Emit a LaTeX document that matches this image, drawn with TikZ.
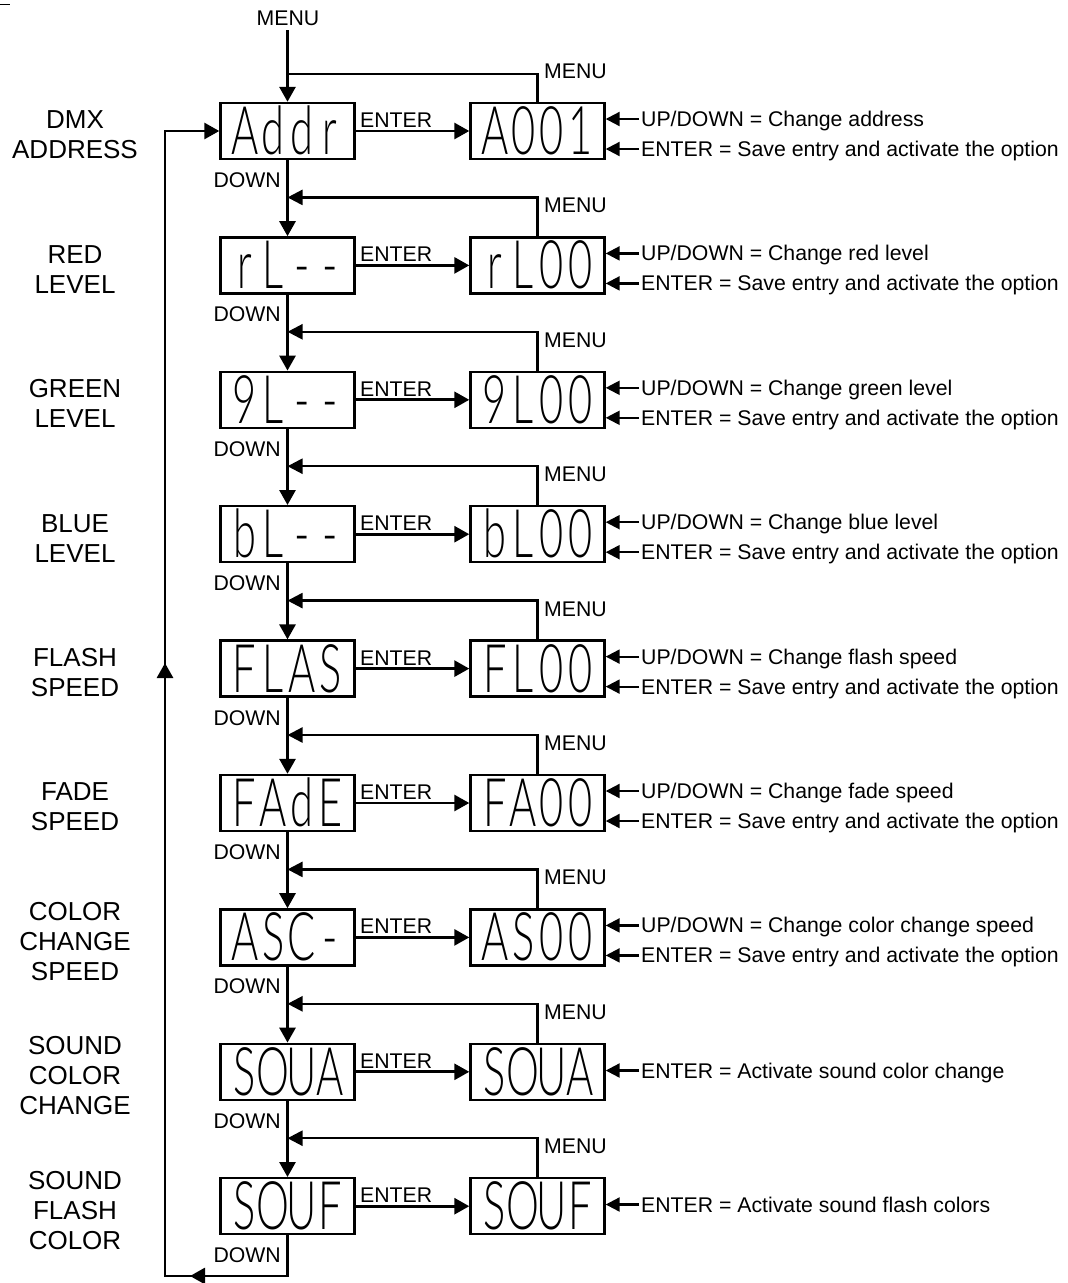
\documentclass[tikz,border=0pt]{standalone}
\usepackage{fontspec}
\usepackage{graphicx}
\setmainfont{Liberation Sans}
\IfFontExistsTF{Lato Light}{\newfontfamily\segfont{Lato Light}}{\newfontfamily\segfont{DejaVu Sans Condensed}}
\usetikzlibrary{arrows.meta}
\newcommand\segc[1]{\makebox[46pt][c]{#1}}
\newcommand\segdisp[4]{\scalebox{0.62}[1]{\segfont\fontsize{67}{67}\selectfont\segc{#1}\segc{#2}\segc{#3}\segc{#4}}}
\tikzset{
  disp/.style={draw, line width=2.4pt, rectangle, minimum width=134pt, minimum height=56pt, inner sep=0pt, text height=47pt, text depth=0pt},
  conn/.style={line width=2.8pt},
  arr/.style={conn, -{Triangle[length=15pt,width=16pt]}},
  fb/.style={line width=2.4pt},
  fbarr/.style={fb, -{Triangle[length=15pt,width=15pt]}},
  sarr/.style={line width=2.2pt, -{Triangle[length=14pt,width=14pt]}},
  lab/.style={font=\fontsize{21.25}{25}\selectfont, inner sep=0pt, text height=15pt, text depth=0pt},
  side/.style={font=\fontsize{26}{30}\selectfont, align=center, inner sep=0pt},
}
\begin{document}
\begin{tikzpicture}[x=1pt,y=-1pt]
\useasboundingbox (0,0) rectangle (1068,1283);
\draw[line width=0.8pt] (0,4) -- (10,4);
% rows
\foreach \i/\la/\ra/\side in {
  0/Addr/A001/{DMX\\ADDRESS},
  1/rL--/rL00/{RED\\LEVEL},
  2/9L--/9L00/{GREEN\\LEVEL},
  3/bL--/bL00/{BLUE\\LEVEL},
  4/FLAS/FL00/{FLASH\\SPEED},
  5/FAdE/FA00/{FADE\\SPEED},
  6/ASC-/AS00/{COLOR\\CHANGE\\SPEED},
  7/SOUA/SOUA/{SOUND\\COLOR\\CHANGE},
  8/SOUF/SOUF/{SOUND\\FLASH\\COLOR}}{
  \pgfmathsetmacro\yc{131+134.4*\i}
  \node[disp] (L\i) at (287.5,\yc) {\expandafter\segdisp\la};
  \node[disp] (R\i) at (537.5,\yc) {\expandafter\segdisp\ra};
  \node[side] (S\i) at (75,\yc+4) {\side};
  \draw[arr] (L\i) -- (R\i);
  \node[lab,anchor=west] (E\i) at (360,\yc-11) {ENTER};
  \node[lab,anchor=east] (D\i) at (281,\yc+49) {DOWN};
}
% top entry
\node[lab] (MT) at (288,17.5) {MENU};
\coordinate (T0) at (287.5,30);
\draw[arr] (T0) -- (L0.north);
\coordinate (F0) at (287.5,74);
\draw[fb] (R0.north) |- (F0);
\node[lab,anchor=west] (M0) at (544,71) {MENU};
% down connectors and menu returns
\foreach \i in {0,...,7}{
  \pgfmathtruncatemacro\j{\i+1}
  \pgfmathsetmacro\yf{63+134.4*\j}
  \draw[arr] (L\i) -- (L\j);
  \coordinate (F\j) at (287.5,\yf);
  \draw[fbarr] (R\j.north) |- (F\j);
  \node[lab,anchor=west] (M\j) at (544,\yf+8) {MENU};
}
% annotations
\foreach \i/\ud in {0/address,1/red level,2/green level,3/blue level,4/flash speed,5/fade speed,6/color change speed}{
  \pgfmathsetmacro\yc{131+134.4*\i}
  \node[lab,anchor=west] (U\i) at (641,\yc-12) {UP/DOWN = Change \ud};
  \node[lab,anchor=west] (V\i) at (641,\yc+18) {ENTER = Save entry and activate the option};
  \draw[sarr] ([xshift=-2pt]U\i.west) -- (R\i.east |- U\i.west);
  \draw[sarr] ([xshift=-2pt]V\i.west) -- (R\i.east |- V\i.west);
}
\node[lab,anchor=west] (V7) at (641,1070.5) {ENTER = Activate sound color change};
\draw[sarr] ([xshift=-2pt]V7.west) -- (R7.east |- V7.west);
\node[lab,anchor=west] (V8) at (641,1204.5) {ENTER = Activate sound flash colors};
\draw[sarr] ([xshift=-2pt]V8.west) -- (R8.east |- V8.west);
% loop back
\coordinate (B1) at (287.5,1276);
\coordinate (B2) at (190,1276);
\coordinate (B3) at (165,1276);
\coordinate (B4) at (165,663);
\draw[arr] (L8.south) |- (B3) |- (L0.west);
\draw[arr] (B1) -- (B2);
\draw[arr] (B3) -- (B4);
\end{tikzpicture}
\end{document}
